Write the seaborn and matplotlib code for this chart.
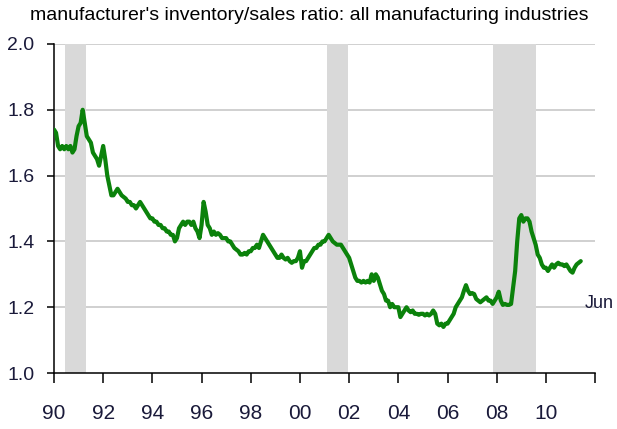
import numpy as np
import pandas as pd
import matplotlib
matplotlib.use("Agg")
import matplotlib.pyplot as plt
import seaborn as sns

# monthly inventory/sales ratio, Jan 1990 - Jun 2011
ratio_by_year = {
    1990: [1.74, 1.73, 1.69, 1.68, 1.69, 1.68, 1.69, 1.68, 1.69, 1.67, 1.68, 1.72],
    1991: [1.75, 1.76, 1.80, 1.76, 1.72, 1.71, 1.70, 1.67, 1.66, 1.65, 1.63, 1.66],
    1992: [1.69, 1.65, 1.60, 1.57, 1.54, 1.54, 1.55, 1.56, 1.55, 1.54, 1.535, 1.53],
    1993: [1.52, 1.52, 1.51, 1.51, 1.50, 1.51, 1.52, 1.51, 1.50, 1.49, 1.48, 1.47],
    1994: [1.47, 1.46, 1.46, 1.45, 1.45, 1.44, 1.44, 1.43, 1.43, 1.42, 1.42, 1.40],
    1995: [1.41, 1.44, 1.45, 1.46, 1.45, 1.46, 1.46, 1.45, 1.46, 1.44, 1.43, 1.41],
    1996: [1.45, 1.52, 1.49, 1.45, 1.44, 1.42, 1.43, 1.42, 1.425, 1.42, 1.41, 1.41],
    1997: [1.41, 1.40, 1.40, 1.39, 1.38, 1.375, 1.37, 1.36, 1.36, 1.365, 1.36, 1.37],
    1998: [1.37, 1.38, 1.38, 1.39, 1.38, 1.40, 1.42, 1.41, 1.40, 1.39, 1.38, 1.37],
    1999: [1.36, 1.35, 1.35, 1.36, 1.35, 1.345, 1.35, 1.34, 1.335, 1.34, 1.34, 1.35],
    2000: [1.37, 1.32, 1.34, 1.34, 1.35, 1.36, 1.37, 1.38, 1.38, 1.39, 1.39, 1.40],
    2001: [1.40, 1.41, 1.42, 1.41, 1.40, 1.395, 1.39, 1.39, 1.39, 1.38, 1.37, 1.36],
    2002: [1.35, 1.33, 1.31, 1.29, 1.28, 1.28, 1.275, 1.28, 1.275, 1.28, 1.275, 1.30],
    2003: [1.28, 1.30, 1.29, 1.27, 1.25, 1.24, 1.22, 1.22, 1.20, 1.21, 1.20, 1.20],
    2004: [1.20, 1.17, 1.18, 1.19, 1.20, 1.19, 1.185, 1.19, 1.18, 1.18, 1.177, 1.18],
    2005: [1.18, 1.175, 1.18, 1.175, 1.18, 1.19, 1.18, 1.15, 1.145, 1.15, 1.14, 1.15],
    2006: [1.15, 1.16, 1.17, 1.18, 1.20, 1.21, 1.22, 1.23, 1.25, 1.267, 1.25, 1.24],
    2007: [1.243, 1.24, 1.225, 1.22, 1.215, 1.22, 1.225, 1.23, 1.22, 1.22, 1.21, 1.22],
    2008: [1.23, 1.247, 1.22, 1.207, 1.21, 1.207, 1.207, 1.21, 1.26, 1.31, 1.40, 1.47],
    2009: [1.48, 1.46, 1.47, 1.47, 1.46, 1.43, 1.41, 1.39, 1.36, 1.35, 1.33, 1.32],
    2010: [1.32, 1.31, 1.32, 1.33, 1.32, 1.33, 1.335, 1.33, 1.33, 1.325, 1.33, 1.32],
    2011: [1.31, 1.305, 1.32, 1.33, 1.335, 1.34],
}

# recession shading (start, end) in decimal years
recessions = [(1990.45, 1991.3), (2001.1, 2001.95), (2007.85, 2009.6)]

tick_years = [1990, 1992, 1994, 1996, 1998, 2000, 2002, 2004, 2006, 2008, 2010, 2012]
tick_labels = ["90", "92", "94", "96", "98", "00", "02", "04", "06", "08", "10", ""]
y_ticks = [1.0, 1.2, 1.4, 1.6, 1.8, 2.0]

rows = []
for yr, vals in ratio_by_year.items():
    for m, v in enumerate(vals):
        rows.append({"year": yr + m / 12.0, "ratio": v})
df = pd.DataFrame(rows)

sns.set_style("white")
plt.rcParams["font.family"] = ["Liberation Sans Narrow", "Liberation Sans", "DejaVu Sans"]

fig = plt.figure(figsize=(6.17, 4.29), dpi=100)
ax = fig.add_axes([0.0875, 0.1305, 0.877, 0.767])

for y in y_ticks[1:]:
    ax.axhline(y, color="#c8c8c8", lw=1.2, zorder=0)
for s, e in recessions:
    ax.axvspan(s, e, color="#d9d9d9", lw=0, zorder=1)

sns.lineplot(data=df, x="year", y="ratio", color="#0b820b", lw=3.0, ax=ax, zorder=3)

ax.set_xlim(1990, 2012)
ax.set_ylim(1.0, 2.0)
ax.set_xticks(tick_years)
ax.set_xticklabels(tick_labels)
ax.set_yticks(y_ticks)
ax.set_yticklabels([f"{v:.1f}" for v in y_ticks])
ax.set_xlabel("")
ax.set_ylabel("")

for side in ["top", "right"]:
    ax.spines[side].set_visible(False)
for side in ["left", "bottom"]:
    ax.spines[side].set_color("black")
    ax.spines[side].set_linewidth(1.1)

ax.tick_params(axis="x", direction="out", length=7, width=1.1, color="black",
               pad=15, labelsize=15, labelcolor="#1a1a3a", bottom=True)
ax.tick_params(axis="y", direction="out", length=5, width=1.1, color="black",
               pad=9, labelsize=14, labelcolor="#1a1a3a", left=True)

ax.text(2011.58, 1.21, "Jun", fontsize=13, color="#1a1a3a", va="center", ha="left", clip_on=False)
fig.text(0.049, 0.965, "manufacturer's inventory/sales ratio: all manufacturing industries",
         fontsize=14, color="black", va="center", ha="left")

fig.savefig("out.png", dpi=100)
